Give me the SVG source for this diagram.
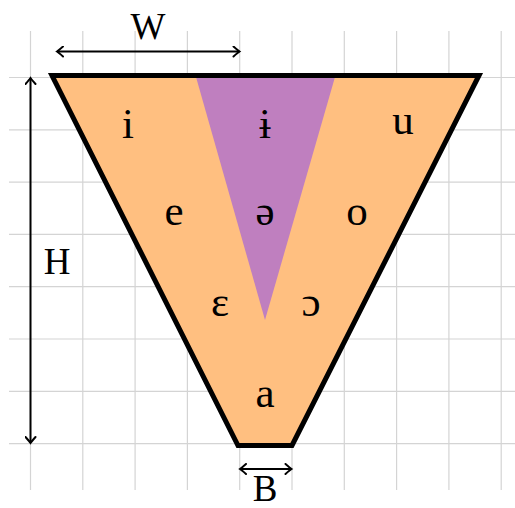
<svg xmlns="http://www.w3.org/2000/svg" width="515" height="508" viewBox="0 0 515 508">
<style>
.grid line{stroke:#d4d4d4;stroke-width:1.2}
.v{font-family:"Liberation Serif","DejaVu Serif",serif;font-size:43px;fill:#000;text-anchor:middle}
.lbl{font-family:"Liberation Serif","DejaVu Serif",serif;font-size:37px;fill:#000;text-anchor:middle}
.dim{stroke:#000;stroke-width:2;fill:none;marker-start:url(#tip);marker-end:url(#tip)}
</style>
<defs>
<marker id="tip" viewBox="-8 -6 10 12" refX="0" refY="0" markerWidth="10" markerHeight="12" markerUnits="userSpaceOnUse" orient="auto-start-reverse">
<path d="M-6,-5 Q-1.5,-1 0,0 Q-1.5,1 -6,5" fill="none" stroke="#000" stroke-width="2" stroke-linecap="round"/>
</marker>
</defs>
<rect width="515" height="508" fill="#fff"/>
<g id="grid" class="grid">
<line x1="30.5" y1="31" x2="30.5" y2="490"/>
<line x1="82.8" y1="31" x2="82.8" y2="490"/>
<line x1="135.1" y1="31" x2="135.1" y2="490"/>
<line x1="187.4" y1="31" x2="187.4" y2="490"/>
<line x1="239.7" y1="31" x2="239.7" y2="490"/>
<line x1="292" y1="31" x2="292" y2="490"/>
<line x1="344.3" y1="31" x2="344.3" y2="490"/>
<line x1="396.6" y1="31" x2="396.6" y2="490"/>
<line x1="448.9" y1="31" x2="448.9" y2="490"/>
<line x1="501.2" y1="31" x2="501.2" y2="490"/>
<line x1="9" y1="77.5" x2="515" y2="77.5"/>
<line x1="9" y1="129.8" x2="515" y2="129.8"/>
<line x1="9" y1="182.1" x2="515" y2="182.1"/>
<line x1="9" y1="234.4" x2="515" y2="234.4"/>
<line x1="9" y1="286.7" x2="515" y2="286.7"/>
<line x1="9" y1="339" x2="515" y2="339"/>
<line x1="9" y1="391.3" x2="515" y2="391.3"/>
<line x1="9" y1="443.6" x2="515" y2="443.6"/>
</g>
<g id="trapezoid">
<polygon points="52,75.5 479,75.5 292,445.5 238,445.5" fill="#FFBF80"/>
<polygon id="central" points="196,77 335,77 265,320" fill="#BF7FBF"/>
<polygon points="52,75.5 479,75.5 292,445.5 238,445.5" fill="none" stroke="#000" stroke-width="5" stroke-linejoin="miter"/>
</g>
<g id="vowels">
<text class="v" x="128" y="138">i</text>
<text class="v" x="265" y="138">ɨ</text>
<text class="v" x="403" y="134">u</text>
<text class="v" x="174" y="225">e</text>
<text class="v" x="265" y="225">ə</text>
<text class="v" x="357" y="225">o</text>
<text class="v" x="220" y="316">ɛ</text>
<text class="v" x="311" y="316">ɔ</text>
<text class="v" x="265" y="407">a</text>
</g>
<g id="connectors">
<line class="dim" x1="57" y1="51.5" x2="239.5" y2="51.5"/>
<line class="dim" x1="30.5" y1="78" x2="30.5" y2="443"/>
<line class="dim" x1="240" y1="469" x2="291.5" y2="469"/>
</g>
<g id="labels">
<text class="lbl" x="148" y="39">W</text>
<text class="lbl" x="57" y="274">H</text>
<text class="lbl" x="265" y="501">B</text>
</g>
</svg>
